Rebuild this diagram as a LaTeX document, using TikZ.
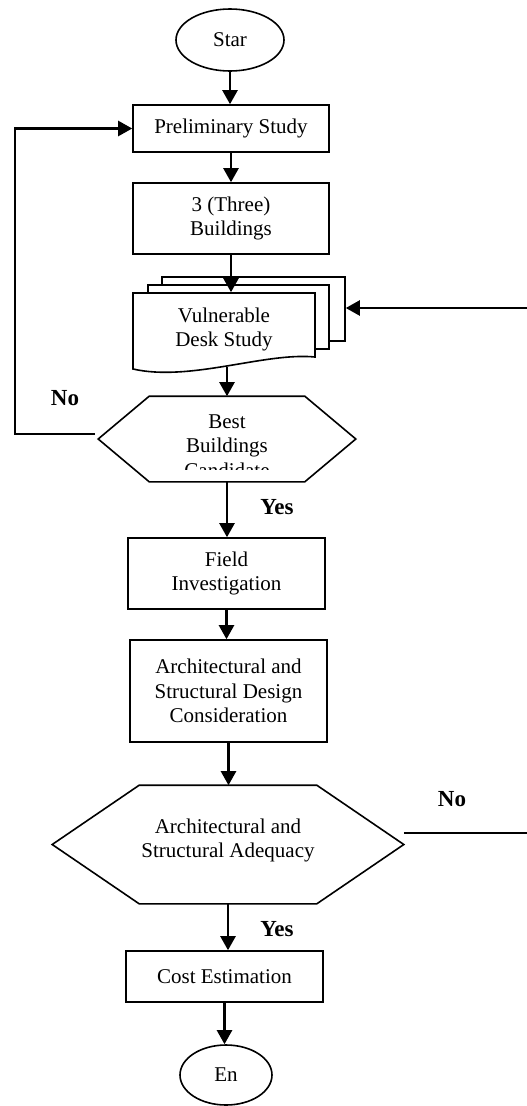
\documentclass[tikz,border=0pt]{standalone}
\usepackage{fontspec}
\setmainfont{Liberation Serif}
\usetikzlibrary{arrows.meta,shapes.geometric}

\tikzset{every picture/.style={line width=1.6pt}}

\begin{document}
\begin{tikzpicture}[x=1pt,y=1pt,yscale=-1,xscale=1,
	font=\fontsize{21}{24.5}\selectfont,
	box/.style={draw,rectangle,inner sep=0pt,align=center},
	term/.style={draw,ellipse,inner sep=0pt},
	sheet/.style={draw,fill=white,rectangle,inner sep=0pt},
	hexbox/.style={rectangle,inner sep=0pt},
	lbl/.style={font=\fontsize{23}{26}\selectfont\bfseries},
	flow/.style={line width=2.4pt,-{Triangle[length=14pt,width=15pt]}}]
	\useasboundingbox (0,0) rectangle (527,1106);

	% Terminals
	\node[term,minimum width=108pt,minimum height=62pt] (start) at (230,40) {Star};
	\node[term,minimum width=92pt,minimum height=60pt] (stop) at (226,1075) {En};

	% Process boxes
	\node[box,minimum width=196pt,minimum height=47pt] (prelim) at (231,128.5) {Preliminary Study};
	\node[box,minimum width=196pt,minimum height=71pt] (three) at (231,218.5) {3 (Three)\\Buildings};
	\node[box,minimum width=197pt,minimum height=71pt] (field) at (226.5,573.5) {Field\\Investigation};
	\node[box,minimum width=197pt,minimum height=102pt] (design) at (228.5,691) {Architectural and\\Structural Design\\Consideration};
	\node[box,minimum width=197pt,minimum height=51pt] (cost) at (224.5,976.5) {Cost Estimation};

	% Multi document
	\node[sheet,minimum width=183pt,minimum height=64pt] (sheet3) at (253.5,309) {};
	\node[sheet,minimum width=181pt,minimum height=64pt] (sheet2) at (238.5,317) {};
	\draw[fill=white] (133,293) -- (315,293) -- (315,357) .. controls (265,352) and (190,382) .. (133,369) -- cycle;
	\node[hexbox,align=center,minimum width=182pt,minimum height=73pt] (desk) at (224,329.5) {Vulnerable\\Desk Study};

	% Decision 1
	\node[hexbox,minimum width=256pt,minimum height=84pt] (dec1) at (227,439) {};
	\draw ([xshift=51pt]dec1.north west) -- ([xshift=-51pt]dec1.north east) -- (dec1.east)
		-- ([xshift=-51pt]dec1.south east) -- ([xshift=51pt]dec1.south west) -- (dec1.west) -- cycle;
	\begin{scope}
		\clip (99,397) rectangle (355,469);
		\node[align=center] (dec1txt) at (227,446) {Best\\Buildings\\Candidate};
	\end{scope}

	% Decision 2
	\node[hexbox,align=center,minimum width=350pt,minimum height=117pt] (dec2) at (228,844.5) {};
	\draw ([xshift=87pt]dec2.north west) -- ([xshift=-87pt]dec2.north east) -- (dec2.east)
		-- ([xshift=-87pt]dec2.south east) -- ([xshift=87pt]dec2.south west) -- (dec2.west) -- cycle;
	\node[align=center] (dec2txt) at (228,840.5) {Architectural and\\Structural Adequacy};

	% Free ends
	\coordinate (loopx) at (15,0);
	\coordinate (noL) at (95,434);
	\coordinate (noR) at (527,833);
	\coordinate (noT) at (527,308);

	%Straight Lines
	\draw[flow] (start.south) -- (start.south |- prelim.north);
	\draw[flow] (prelim.south) -- (prelim.south |- three.north);
	\draw[flow] (three.south) -- (three.south |- desk.north);
	\draw[flow] (dec1.north |- desk.south) -- (dec1.north);
	\draw[flow] (dec1.south) -- (dec1.south |- field.north);
	\draw[flow] (field.south) -- (field.south |- design.north);
	\draw[flow] (design.south) -- (design.south |- dec2.north);
	\draw[flow] (dec2.south) -- (dec2.south |- cost.north);
	\draw[flow] (cost.south) -- (cost.south |- stop.north);
	\draw[flow] (noL) -- (loopx |- noL) |- (prelim.west);
	\draw[flow] (noT) -- (sheet3.east |- noT);
	\draw[line width=2.4pt] (dec2.east |- noR) -- (noR);

	% Text Node
	\node[lbl] (no1) at (65,398) {No};
	\node[lbl] (yes1) at (277,507) {Yes};
	\node[lbl] (no2) at (452,799) {No};
	\node[lbl] (yes2) at (277,929) {Yes};
\end{tikzpicture}
\end{document}
